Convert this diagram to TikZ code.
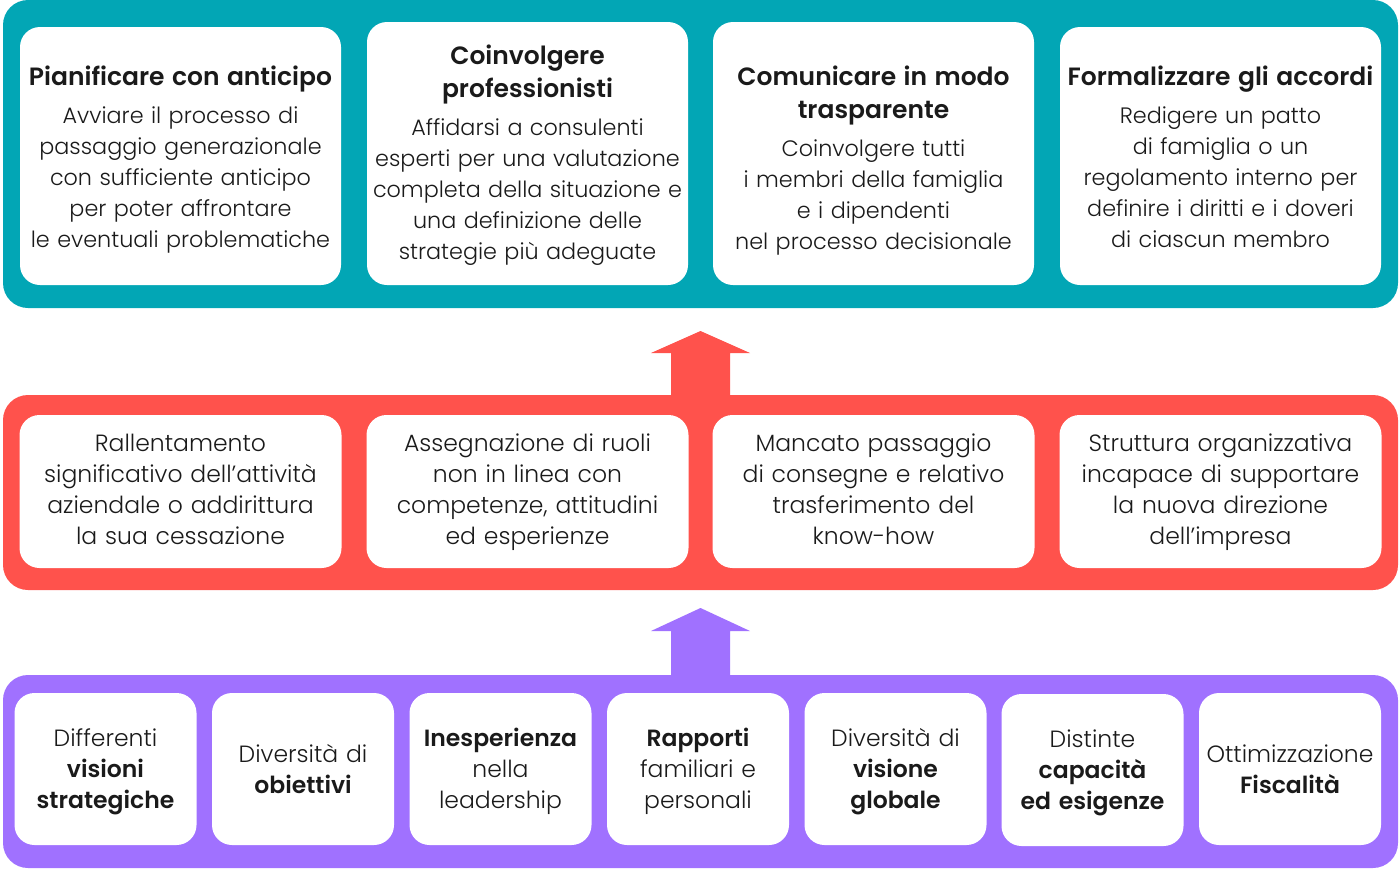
\documentclass[tikz,border=0pt]{standalone}
\usepackage{fontspec}
\setmainfont{Poppins}[UprightFont=* Light, BoldFont=* SemiBold]
\usetikzlibrary{calc}
\definecolor{tealband}{HTML}{02A6B5}
\definecolor{redband}{HTML}{FF524C}
\definecolor{lilacband}{HTML}{A071FF}
\definecolor{ink}{HTML}{1A1A1A}
\tikzset{
	band/.style={fill=#1, rounded corners=25pt, inner sep=0pt, outer sep=0pt, minimum width=1395pt},
	card/.style={fill=white, rounded corners=20pt, inner sep=0pt, outer sep=0pt, align=center, text=ink,
		execute at begin node={\rule{0pt}{#1}}, execute at end node=\strut},
	card/.default=18pt,
	wide/.style={card=#1, minimum width=321pt, text width=319pt, font=\fontsize{22.3}{31}\selectfont},
	wide/.default=30.5pt,
	risk/.style={card=22pt, minimum width=322pt, text width=319pt, minimum height=153pt, font=\fontsize{23.5}{31}\selectfont},
	narrow/.style={card=26.5pt, minimum width=182pt, text width=181pt, minimum height=152pt, font=\fontsize{23.5}{31}\selectfont},
}
\newcommand{\hd}[1]{{\fontsize{25}{33}\selectfont\bfseries #1}}
\newcommand{\bd}[1]{{\bfseries #1}}

\begin{document}
\begin{tikzpicture}[x=1pt, y=-1pt]
				\useasboundingbox (0,0) rectangle (1400,870);
				
				\node[band=tealband, minimum height=308pt] (top) at (700.5,154) {};
				\node[band=redband, minimum height=195pt] (mid) at (700.5,492.5) {};
				\node[band=lilacband, minimum height=193pt] (low) at (700.5,771.5) {};
				
				\node[wide, minimum height=258pt] (plan) at (180.5,156) {\hd{Pianificare con anticipo}\\[7pt]
					Avviare il processo di\\ passaggio generazionale\\ con sufficiente anticipo\\ per poter affrontare\\ le eventuali problematiche};
				\node[wide=26.5pt, minimum height=263pt] (pro) at (527.5,153.5) {\hd{Coinvolgere}\\[2pt] \hd{professionisti}\\[7pt]
					Affidarsi a consulenti\\ esperti per una valutazione\\ completa della situazione e\\ una definizione delle\\ strategie più adeguate};
				\node[wide=36.5pt, minimum height=263pt] (comm) at (873.5,153.5) {\hd{Comunicare in modo}\\[2pt] \hd{trasparente}\\[7pt]
					Coinvolgere tutti\\ i membri della famiglia\\ e i dipendenti\\ nel processo decisionale};
				\node[wide, minimum height=258pt] (form) at (1220.5,156) {\hd{Formalizzare gli accordi}\\[7pt]
					Redigere un patto\\ di famiglia o un\\ regolamento interno per\\ definire i diritti e i doveri\\ di ciascun membro};
				
				\node[risk] (slow) at (180.5,491.5) {Rallentamento\\ significativo dell’attività\\ aziendale o addirittura\\ la sua cessazione};
				\node[risk] (roles) at (527.5,491.5) {Assegnazione di ruoli\\ non in linea con\\ competenze, attitudini\\ ed esperienze};
				\node[risk] (know) at (873.5,491.5) {Mancato passaggio\\ di consegne e relativo\\ trasferimento del\\ know-how};
				\node[risk] (struct) at (1220.5,491.5) {Struttura organizzativa\\ incapace di supportare\\ la nuova direzione\\ dell’impresa};
				
				\node[narrow] (vis) at (105.5,769) {Differenti\\ \bd{visioni}\\ \bd{strategiche}};
				\node[narrow] (obj) at (303,769) {Diversità di\\ \bd{obiettivi}};
				\node[narrow] (lead) at (500.5,769) {\bd{Inesperienza}\\ nella\\ leadership};
				\node[narrow] (rel) at (698,769) {\bd{Rapporti}\\ familiari e\\ personali};
				\node[narrow] (glob) at (895.5,769) {Diversità di\\ \bd{visione}\\ \bd{globale}};
				\node[narrow] (cap) at (1092.5,770) {Distinte\\ \bd{capacità}\\ \bd{ed esigenze}};
				\node[narrow] (fisc) at (1290,769) {Ottimizzazione\\ \bd{Fiscalità}};
				
				\fill[redband] ($(mid.north)+(-29.5,0)$) -- ++(0,-42) -- ++(-20,0) -- ($(mid.north)+(0,-64)$)
					-- ($(mid.north)+(49.5,-42)$) -- ++(-20,0) -- ($(mid.north)+(29.5,0)$) -- cycle;
				\fill[lilacband] ($(low.north)+(-29.5,0)$) -- ++(0,-44) -- ++(-20,0) -- ($(low.north)+(0,-67)$)
					-- ($(low.north)+(49.5,-44)$) -- ++(-20,0) -- ($(low.north)+(29.5,0)$) -- cycle;
			\end{tikzpicture}
\end{document}
